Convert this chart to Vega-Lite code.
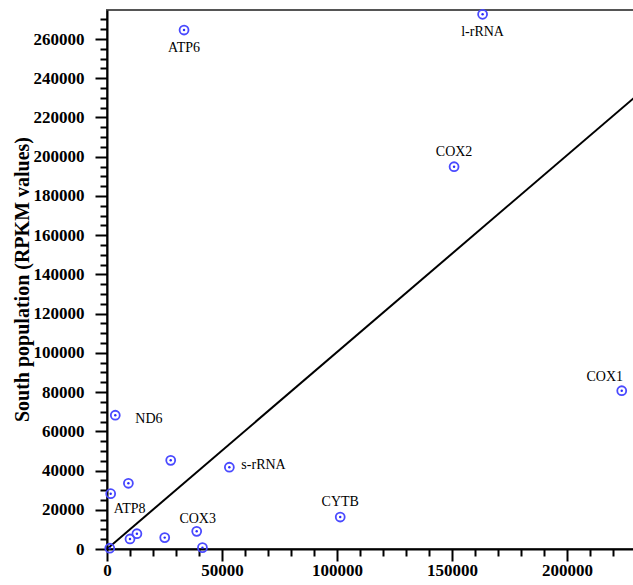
{
  "$schema": "https://vega.github.io/schema/vega-lite/v6.json",
  "width": 527,
  "height": 539,
  "autosize": "none",
  "padding": {"left": 107, "top": 10, "right": 0, "bottom": 36},
  "background": "white",
  "config": {
    "view": {"stroke": "#555555", "strokeWidth": 2},
    "text": {"font": "Liberation Serif", "fontSize": 14, "color": "black"}
  },
  "datasets": {
    "pts": [
      {"x": 33500, "y": 264600, "gene": "ATP6"},
      {"x": 163300, "y": 272600, "gene": "l-rRNA"},
      {"x": 150900, "y": 194900, "gene": "COX2"},
      {"x": 223800, "y": 80700, "gene": "COX1"},
      {"x": 101400, "y": 16300, "gene": "CYTB"},
      {"x": 3600, "y": 68200, "gene": "ND6"},
      {"x": 27700, "y": 45200, "gene": ""},
      {"x": 53200, "y": 41700, "gene": "s-rRNA"},
      {"x": 9300, "y": 33500, "gene": ""},
      {"x": 1600, "y": 28200, "gene": "ATP8"},
      {"x": 13000, "y": 7800, "gene": ""},
      {"x": 10000, "y": 5100, "gene": ""},
      {"x": 25100, "y": 5800, "gene": ""},
      {"x": 39000, "y": 9000, "gene": "COX3"},
      {"x": 41500, "y": 700, "gene": ""},
      {"x": 1200, "y": 400, "gene": ""}
    ],
    "diag": [
      {"x": 0, "y": 0},
      {"x": 229130, "y": 230000}
    ]
  },
  "encoding": {
    "x": {"field": "x", "type": "quantitative", "scale": {"domain": [0, 229130], "nice": false, "zero": false},
      "axis": {"orient": "bottom", "values": [0, 10000, 20000, 30000, 40000, 50000, 60000, 70000, 80000, 90000, 100000, 110000, 120000, 130000, 140000, 150000, 160000, 170000, 180000, 190000, 200000, 210000, 220000],
        "labelExpr": "datum.value % 50000 === 0 ? datum.label : ''", "labelOverlap": false,
        "format": "d", "title": null, "grid": false, "ticks": true,
        "domainColor": "black", "domainWidth": 2, "tickColor": "black", "tickWidth": 2, "tickOpacity": 1,
        "tickSize": {"condition": {"test": "datum.value % 50000 === 0", "value": 12}, "value": 7},
        "labelFont": "Liberation Serif", "labelFontWeight": "bold", "labelFontSize": 17, "labelColor": "black", "labelPadding": 1, "labelFlush": false}},
    "y": {"field": "y", "type": "quantitative", "scale": {"domain": [0, 274800], "nice": false, "zero": false},
      "axis": {"orient": "left", "values": [0, 5000, 10000, 15000, 20000, 25000, 30000, 35000, 40000, 45000, 50000, 55000, 60000, 65000, 70000, 75000, 80000, 85000, 90000, 95000, 100000, 105000, 110000, 115000, 120000, 125000, 130000, 135000, 140000, 145000, 150000, 155000, 160000, 165000, 170000, 175000, 180000, 185000, 190000, 195000, 200000, 205000, 210000, 215000, 220000, 225000, 230000, 235000, 240000, 245000, 250000, 255000, 260000, 265000, 270000],
        "labelExpr": "datum.value % 20000 === 0 ? datum.label : ''", "labelOverlap": false,
        "format": "d", "grid": false, "ticks": true,
        "domainColor": "black", "domainWidth": 2, "tickColor": "black", "tickWidth": 2, "tickOpacity": 1,
        "tickSize": {"condition": {"test": "datum.value % 20000 === 0", "value": 12}, "value": 7},
        "labelFont": "Liberation Serif", "labelFontWeight": "bold", "labelFontSize": 17, "labelColor": "black", "labelPadding": 11, "labelFlush": false,
        "title": "South population (RPKM values)", "titleFont": "Liberation Serif", "titleFontWeight": "bold", "titleFontSize": 20, "titleColor": "black",
        "titleX": -85, "titleY": 269, "titleAngle": 270, "titleAlign": "center", "titleBaseline": "middle"}}
  },
  "layer": [
    {
      "data": {"name": "diag"},
      "mark": {"type": "line", "color": "black", "strokeWidth": 2, "clip": true}
    },
    {
      "data": {"name": "pts"},
      "mark": {"type": "point", "shape": "circle", "filled": false, "stroke": "#4a4aff", "strokeWidth": 1.8, "size": 80, "opacity": 1}
    },
    {
      "data": {"name": "pts"},
      "mark": {"type": "circle", "size": 6, "color": "#2b2bff", "opacity": 1}
    },
    {
      "data": {"name": "pts"},
      "transform": [{"filter": "datum.gene === 'ATP6' || datum.gene === 'l-rRNA'"}],
      "mark": {"type": "text", "align": "center", "baseline": "middle", "dy": 18},
      "encoding": {"text": {"field": "gene"}}
    },
    {
      "data": {"name": "pts"},
      "transform": [{"filter": "datum.gene === 'COX2' || datum.gene === 'CYTB'"}],
      "mark": {"type": "text", "align": "center", "baseline": "middle", "dy": -15},
      "encoding": {"text": {"field": "gene"}}
    },
    {
      "data": {"name": "pts"},
      "transform": [{"filter": "datum.gene === 'COX3'"}],
      "mark": {"type": "text", "align": "center", "baseline": "middle", "dy": -12, "dx": 1},
      "encoding": {"text": {"field": "gene"}}
    },
    {
      "data": {"name": "pts"},
      "transform": [{"filter": "datum.gene === 'COX1'"}],
      "mark": {"type": "text", "align": "center", "baseline": "middle", "dy": -14, "dx": -17},
      "encoding": {"text": {"field": "gene"}}
    },
    {
      "data": {"name": "pts"},
      "transform": [{"filter": "datum.gene === 'ND6'"}],
      "mark": {"type": "text", "align": "left", "baseline": "middle", "dy": 4, "dx": 20},
      "encoding": {"text": {"field": "gene"}}
    },
    {
      "data": {"name": "pts"},
      "transform": [{"filter": "datum.gene === 's-rRNA'"}],
      "mark": {"type": "text", "align": "left", "baseline": "middle", "dy": -2, "dx": 12},
      "encoding": {"text": {"field": "gene"}}
    },
    {
      "data": {"name": "pts"},
      "transform": [{"filter": "datum.gene === 'ATP8'"}],
      "mark": {"type": "text", "align": "left", "baseline": "middle", "dy": 15, "dx": 3},
      "encoding": {"text": {"field": "gene"}}
    }
  ]
}
